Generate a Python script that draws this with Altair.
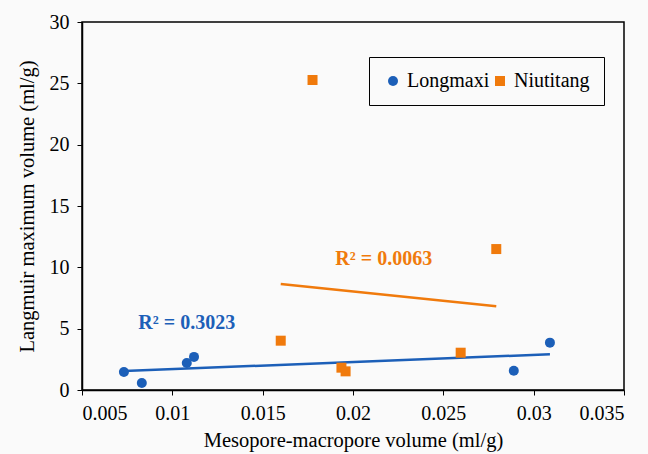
import altair as alt
import pandas as pd

# Data
long_x = [0.00732, 0.00831, 0.0108, 0.0112, 0.0289, 0.0309]
long_y = [1.47, 0.57, 2.20, 2.70, 1.57, 3.86]
niu_x = [0.01776, 0.0160, 0.01936, 0.01959, 0.02596, 0.02793]
niu_y = [25.27, 4.02, 1.82, 1.52, 3.04, 11.49]
series_names = ["Longmaxi", "Niutitang"]
series_colors = ["#1c5fb8", "#f07a0c"]
r2_labels = ["R² = 0.3023", "R² = 0.0063"]
r2_x = [0.0108, 0.0217]
r2_y = [5.45, 10.7]
x_ticks = [0.005, 0.01, 0.015, 0.02, 0.025, 0.03, 0.035]
y_ticks = [0, 5, 10, 15, 20, 25, 30]

df = pd.DataFrame({
    "x": long_x + niu_x,
    "y": long_y + niu_y,
    "series": [series_names[0]] * len(long_x) + [series_names[1]] * len(niu_x),
})
lab = pd.DataFrame({"x": r2_x, "y": r2_y, "text": r2_labels, "series": series_names})

FONT = "Liberation Serif"

ax_common = dict(labelFont=FONT, labelFontSize=20, labelColor="#000000", labelPadding=8,
                 titleFont=FONT, titleFontSize=20.5, titleColor="#000000", titleFontWeight="normal",
                 grid=False, domainColor="#000000", domainWidth=1.5, tickColor="#000000", tickSize=5)
xenc = alt.X("x:Q", scale=alt.Scale(domain=[0.005, 0.035], nice=False, zero=False),
             axis=alt.Axis(values=x_ticks, format="~g", title="Mesopore-macropore volume (ml/g)",
                           titlePadding=7, **ax_common))
yenc = alt.Y("y:Q", scale=alt.Scale(domain=[0, 30], nice=False),
             axis=alt.Axis(values=y_ticks, title="Langmuir maximum volume (ml/g)",
                           titlePadding=12, **ax_common))
leg = alt.Legend(title=None, orient="none", legendX=287, legendY=35,
                 direction="horizontal", columns=2,
                 labelFont=FONT, labelFontSize=20, labelColor="#000000", symbolSize=100,
                 strokeColor="#000000", padding=14, columnPadding=0, labelOffset=4,
                 symbolStrokeWidth=0)
color = alt.Color("series:N", scale=alt.Scale(domain=series_names, range=series_colors), legend=leg)
shape = alt.Shape("series:N", scale=alt.Scale(domain=series_names, range=["circle", "square"]), legend=leg)

points = alt.Chart(df).mark_point(filled=True, opacity=1, size=100).encode(
    x=xenc, y=yenc, color=color, shape=shape)

lines = alt.Chart(df).transform_regression("x", "y", groupby=["series"]).mark_line(
    strokeWidth=2.5).encode(
    x="x:Q", y="y:Q",
    stroke=alt.Stroke("series:N", scale=alt.Scale(domain=series_names, range=series_colors), legend=None))

texts = alt.Chart(lab).mark_text(font=FONT, fontSize=20, fontWeight="bold").encode(
    x="x:Q", y="y:Q", text="text:N",
    fill=alt.Fill("series:N", scale=alt.Scale(domain=series_names, range=series_colors), legend=None))

chart = alt.layer(lines, points, texts).properties(
    width=542, height=368,
    autosize=alt.AutoSizeParams(type="none"),
    padding={"left": 82, "top": 22, "right": 24, "bottom": 64},
    background="#fafafa",
).resolve_scale(stroke="independent", fill="independent").configure(
    font=FONT
).configure_view(
    stroke="#000000", strokeWidth=1.5
)

chart.save("out.html", embed_options={"renderer": "svg", "actions": False})
